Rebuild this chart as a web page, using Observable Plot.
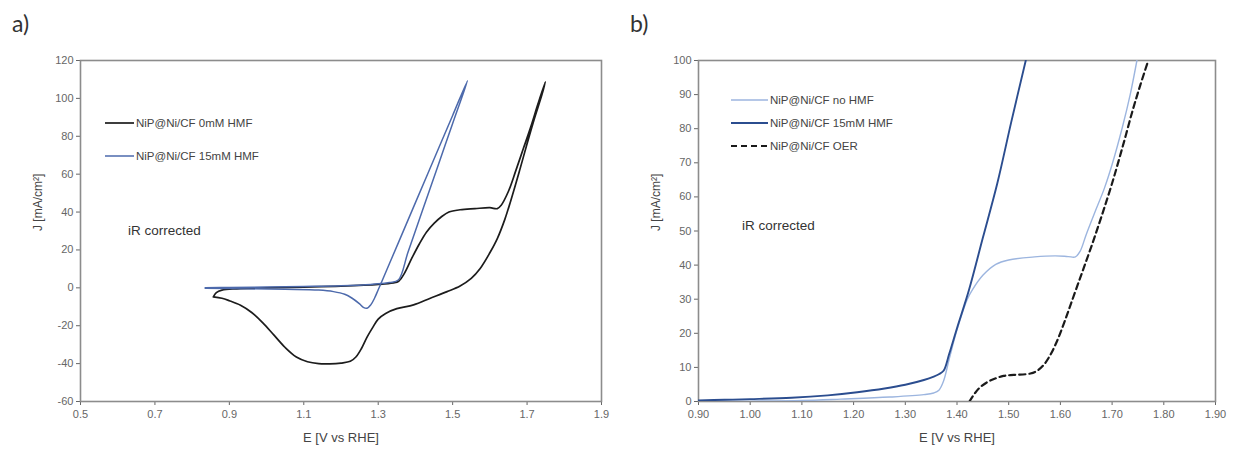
<!DOCTYPE html>
<html>
<head>
<meta charset="utf-8">
<script src="https://cdn.jsdelivr.net/npm/d3@7"></script>
<script src="https://cdn.jsdelivr.net/npm/@observablehq/plot@0.6"></script>
<style>
  body { margin: 0; background: #fff; }
  #root { position: relative; width: 1233px; height: 454px; overflow: hidden; background: #fff; font-family: "Liberation Sans", Arial, sans-serif; }
  .panel-label { position: absolute; font-family: Lato, "Open Sans", sans-serif; font-size: 23px; color: #333; line-height: 1; }
  .leg { position: absolute; display: flex; align-items: center; font-size: 11.5px; color: #444; white-space: nowrap; }
  .leg svg { display: block; margin-right: 2px; }
  .note { position: absolute; font-size: 13.5px; color: #333; white-space: nowrap; line-height: 1; }
  .plot { position: absolute; top: 40px; }
</style>
</head>
<body>
<div id="root">
  <div class="panel-label" style="left:12px;top:12px">a)</div>
  <div class="panel-label" style="left:630px;top:12px">b)</div>
  <div id="pa" class="plot" style="left:0px"></div>
  <div id="pb" class="plot" style="left:616px"></div>
</div>
<script>
// ---------- Panel a: cyclic voltammograms ----------
const aXTicks = [0.5, 0.7, 0.9, 1.1, 1.3, 1.5, 1.7, 1.9];
const aYTicks = [-60, -40, -20, 0, 20, 40, 60, 80, 100, 120];

const aBlackName = "NiP@Ni/CF 0mM HMF";
const aBlackE = [0.857, 0.865, 0.88, 0.92, 1.0, 1.1, 1.2, 1.3, 1.34, 1.355, 1.37, 1.39, 1.41, 1.43, 1.45, 1.47, 1.49, 1.52, 1.56, 1.60, 1.62, 1.63, 1.65, 1.67, 1.69, 1.71, 1.73, 1.749,
  1.74, 1.72, 1.70, 1.68, 1.66, 1.64, 1.62, 1.60, 1.574, 1.55, 1.52, 1.485, 1.44, 1.395, 1.35, 1.32, 1.30, 1.285, 1.27, 1.255, 1.24, 1.225, 1.20, 1.17, 1.14, 1.11, 1.08, 1.05, 1.02, 0.99, 0.96, 0.93, 0.90, 0.88, 0.857];
const aBlackJ = [-4.8, -2.5, -1.2, -0.5, 0, 0.4, 0.9, 1.8, 2.6, 3.5, 7.5, 15.5, 23, 29.5, 34, 37.5, 40, 41.2, 41.8, 42.3, 41.8, 43.5, 51, 62, 73.5, 85, 97.5, 108.7,
  102, 89.5, 76, 62, 48.5, 36, 26, 18.5, 10.2, 5, 1, -2, -5.5, -9, -11, -13.5, -16.5, -21, -26, -32, -36.5, -38.8, -39.7, -40.1, -40, -39, -36.5, -31.5, -25, -18.5, -13, -9.2, -6.8, -5.5, -4.8];

const aBlueName = "NiP@Ni/CF 15mM HMF";
const aBlueE = [0.835, 0.9, 1.0, 1.1, 1.2, 1.28, 1.33, 1.354, 1.38, 1.42, 1.46, 1.50, 1.54,
  1.50, 1.45, 1.40, 1.36, 1.33, 1.31, 1.30, 1.29, 1.28, 1.27, 1.26, 1.25, 1.23, 1.21, 1.18, 1.14, 1.05, 0.95, 0.835];
const aBlueJ = [0, 0.2, 0.4, 0.7, 1.1, 1.8, 2.8, 4.1, 18.8, 41.5, 64, 86.8, 109.4,
  91, 68, 45, 26.5, 12.7, 3.5, -1, -5.5, -9, -10.8, -10.3, -8.5, -5.5, -3.4, -2, -1.2, -0.8, -0.5, -0.2];

// ---------- Panel b: linear sweeps ----------
const bXTicks = [0.9, 1.0, 1.1, 1.2, 1.3, 1.4, 1.5, 1.6, 1.7, 1.8, 1.9];
const bYTicks = [0, 10, 20, 30, 40, 50, 60, 70, 80, 90, 100];

const bNoName = "NiP@Ni/CF no HMF";
const bNoE = [0.90, 1.00, 1.10, 1.175, 1.27, 1.336, 1.355, 1.365, 1.374, 1.385, 1.40, 1.42, 1.43, 1.45, 1.475, 1.50, 1.55, 1.59, 1.615, 1.629, 1.638, 1.65, 1.668, 1.685, 1.70, 1.72, 1.735, 1.748];
const bNoJ = [0, 0.1, 0.3, 0.7, 1.3, 2, 2.5, 3.3, 6, 12.5, 21, 30, 32.8, 37, 40.2, 41.5, 42.4, 42.7, 42.5, 42.4, 44, 49, 56, 62.5, 69.5, 80.5, 90, 100];

const bHmfName = "NiP@Ni/CF 15mM HMF";
const bHmfE = [0.90, 0.95, 1.00, 1.08, 1.15, 1.207, 1.26, 1.30, 1.336, 1.355, 1.365, 1.374, 1.385, 1.40, 1.423, 1.45, 1.478, 1.505, 1.533];
const bHmfJ = [0.3, 0.5, 0.7, 1.1, 1.8, 2.7, 3.8, 4.9, 6.3, 7.3, 8, 9, 14, 21.5, 32.6, 48, 64, 82, 100];

const bOerName = "NiP@Ni/CF OER";
const bOerE = [1.424, 1.435, 1.445, 1.46, 1.475, 1.49, 1.51, 1.542, 1.555, 1.567, 1.58, 1.594, 1.607, 1.62, 1.64, 1.66, 1.68, 1.70, 1.72, 1.74, 1.755, 1.77];
const bOerJ = [0, 2.5, 4.2, 5.8, 6.8, 7.5, 7.8, 8.2, 9, 10.6, 13.5, 17.9, 23, 28.5, 37, 45.5, 54.5, 64, 74.5, 85.5, 93, 100];

const xTitle = "E [V vs RHE]";
const yTitle = "J [mA/cm²]";
const note = "iR corrected";

const toRows = (E, J) => E.map((e, i) => ({E: e, J: J[i]}));

function axes(xTicks, yTicks, xFmt) {
  return [
    Plot.axisX({ticks: xTicks, tickFormat: xFmt, tickSize: 4, tickPadding: 5, label: null, color: "#666", fontSize: 11}),
    Plot.axisY({ticks: yTicks, tickFormat: d => String(d), tickSize: 4, tickPadding: 3, label: null, color: "#666", fontSize: 11}),
    Plot.frame({stroke: "#8c8c8c", strokeWidth: 1.6}),
    Plot.text([xTitle], {frameAnchor: "bottom", dy: 36, fontSize: 13, fill: "#444", lineAnchor: "middle"}),
    Plot.text([yTitle], {frameAnchor: "left", dx: -42, rotate: -90, fontSize: 12, fill: "#444", lineAnchor: "middle"})
  ];
}

const pa = Plot.plot({
  width: 616, height: 414,
  marginLeft: 80, marginRight: 15, marginTop: 20, marginBottom: 53,
  style: {fontFamily: "'Liberation Sans', Arial, sans-serif", background: "transparent"},
  x: {domain: [0.5, 1.9]},
  y: {domain: [-60, 120]},
  marks: [
    ...axes(aXTicks, aYTicks, d3.format(".1f")),
    Plot.line(toRows(aBlackE, aBlackJ), {x: "E", y: "J", stroke: "#1c1c1c", strokeWidth: 1.7, curve: "catmull-rom"}),
    Plot.line(toRows(aBlueE, aBlueJ), {x: "E", y: "J", stroke: "#4d6aac", strokeWidth: 1.5, curve: "catmull-rom"})
  ]
});
document.getElementById("pa").appendChild(pa);

const pb = Plot.plot({
  width: 617, height: 414,
  marginLeft: 82, marginRight: 18, marginTop: 20, marginBottom: 53,
  style: {fontFamily: "'Liberation Sans', Arial, sans-serif", background: "transparent"},
  x: {domain: [0.9, 1.9]},
  y: {domain: [0, 100]},
  marks: [
    ...axes(bXTicks, bYTicks, d3.format(".2f")),
    Plot.line(toRows(bNoE, bNoJ), {x: "E", y: "J", stroke: "#9cb5df", strokeWidth: 1.4, curve: "catmull-rom", clip: true}),
    Plot.line(toRows(bHmfE, bHmfJ), {x: "E", y: "J", stroke: "#2b4d8f", strokeWidth: 1.9, curve: "catmull-rom", clip: true}),
    Plot.line(toRows(bOerE, bOerJ), {x: "E", y: "J", stroke: "#1a1a1a", strokeWidth: 2.2, strokeDasharray: "6,4", curve: "catmull-rom", clip: true})
  ]
});
document.getElementById("pb").appendChild(pb);

// ---------- legends and notes ----------
const root = document.getElementById("root");
function legendItem(left, top, len, name, stroke, width, dash) {
  const d = document.createElement("div");
  d.className = "leg";
  d.style.left = left + "px";
  d.style.top = (top - 8) + "px";
  d.style.height = "16px";
  d.innerHTML = `<svg width="${len}" height="16"><line x1="0" x2="${len}" y1="8" y2="8" stroke="${stroke}" stroke-width="${width}" ${dash ? `stroke-dasharray="${dash}"` : ""}/></svg><span>${name}</span>`;
  root.appendChild(d);
}
function addNote(left, top, text) {
  const d = document.createElement("div");
  d.className = "note";
  d.style.left = left + "px";
  d.style.top = top + "px";
  d.textContent = text;
  root.appendChild(d);
}
legendItem(105, 123, 29, aBlackName, "#1c1c1c", 1.7);
legendItem(105, 156, 29, aBlueName, "#4d6aac", 1.5);
addNote(128, 224, note);

legendItem(731, 100, 37, bNoName, "#9cb5df", 1.4);
legendItem(731, 123, 37, bHmfName, "#2b4d8f", 1.9);
legendItem(731, 146, 37, bOerName, "#1a1a1a", 2.2, "6,4");
addNote(742, 219, note);
</script>
</body>
</html>
